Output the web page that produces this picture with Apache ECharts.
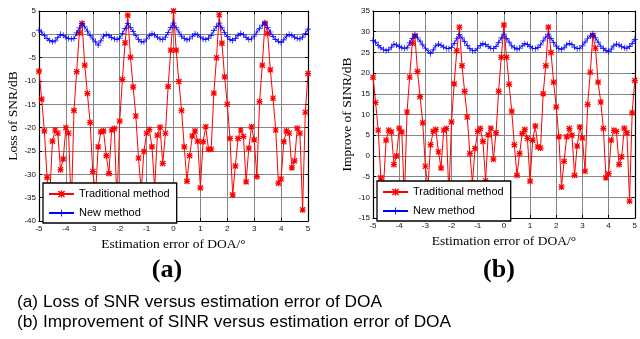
<!DOCTYPE html>
<html>
<head>
<meta charset="utf-8">
<script src="https://cdn.jsdelivr.net/npm/echarts@6/dist/echarts.min.js"></script>
<style>
  html, body { margin: 0; padding: 0; background: #fff; }
  #chart { width: 640px; height: 339px; }
</style>
</head>
<body>
<div id="chart"></div>
<script>
// DOA estimation error (degrees), sampled every 0.1
const doaError = [
  -5, -4.9, -4.8, -4.7, -4.6, -4.5, -4.4, -4.3, -4.2, -4.1,
  -4, -3.9, -3.8, -3.7, -3.6, -3.5, -3.4, -3.3, -3.2, -3.1,
  -3, -2.9, -2.8, -2.7, -2.6, -2.5, -2.4, -2.3, -2.2, -2.1,
  -2, -1.9, -1.8, -1.7, -1.6, -1.5, -1.4, -1.3, -1.2, -1.1,
  -1, -0.9, -0.8, -0.7, -0.6, -0.5, -0.4, -0.3, -0.2, -0.1,
  0, 0.1, 0.2, 0.3, 0.4, 0.5, 0.6, 0.7, 0.8, 0.9,
  1, 1.1, 1.2, 1.3, 1.4, 1.5, 1.6, 1.7, 1.8, 1.9,
  2, 2.1, 2.2, 2.3, 2.4, 2.5, 2.6, 2.7, 2.8, 2.9,
  3, 3.1, 3.2, 3.3, 3.4, 3.5, 3.6, 3.7, 3.8, 3.9,
  4, 4.1, 4.2, 4.3, 4.4, 4.5, 4.6, 4.7, 4.8, 4.9,
  5
];

// (a) Loss of SNR, dB
const snrLossTraditional = [
  -7.9, -13.9, -20.7, -30.7, -34.5, -22.9, -20.5, -21.2, -29.0, -26.7,
  -20.0, -21.2, -37.5, -16.3, -8.0, 0.3, 2.3, -6.6, -12.7, -18.9,
  -29.4, -34.5, -24.1, -20.9, -20.7, -26.0, -29.8, -20.5, -20.2, -36.5,
  -18.6, -9.7, -1.8, 4.1, -4.9, -11.3, -17.5, -26.5, -33.5, -25.1,
  -21.2, -20.4, -24.1, -33.0, -21.6, -19.9, -27.7, -21.2, -11.2, -3.4,
  5.0, -3.4, -10.1, -16.3, -24.1, -31.5, -26.0, -21.8, -20.7, -22.9,
  -32.9, -23.0, -19.8, -24.6, -24.6, -12.6, -5.0, 4.2, -1.9, -9.1,
  -15.0, -22.3, -34.4, -28.2, -22.3, -20.5, -21.9, -31.6, -24.4, -19.8,
  -22.6, -30.5, -14.4, -6.6, 2.4, 0.2, -7.6, -13.7, -20.5, -31.9,
  -31.0, -23.0, -20.7, -21.2, -28.6, -27.1, -20.1, -21.2, -37.6, -16.7,
  -8.4
];
const snrLossNew = [
  0.9, 0.5, -0.3, -0.9, -1.3, -1.6, -1.4, -0.7, 0.0, -0.2,
  -0.6, -0.9, -1.0, -0.9, 0.3, 1.4, 2.3, 1.6, 0.7, -0.2,
  -1.0, -1.6, -2.3, -1.4, -0.4, 0.0, -0.3, -0.7, -1.0, -1.1,
  -0.8, 0.2, 1.3, 2.3, 1.5, 0.6, -0.3, -1.1, -1.6, -1.6,
  -1.0, -0.3, 0.1, -0.1, -0.6, -1.0, -1.1, -0.6, 0.4, 1.5,
  2.4, 1.4, 0.5, -0.4, -0.9, -1.2, -1.0, -0.4, 0.1, -0.1,
  -0.6, -1.0, -1.1, -0.8, -0.2, 0.8, 1.7, 2.4, 1.4, 0.4,
  -0.5, -1.1, -1.3, -0.9, -0.2, 0.2, -0.1, -0.7, -1.1, -1.0,
  -0.4, 0.5, 1.3, 2.0, 2.5, 1.5, 0.5, -0.5, -1.1, -1.5,
  -1.8, -1.2, -0.4, 0.0, -0.2, -0.6, -0.9, -1.0, -0.6, 0.2,
  1.1
];

// (b) Improvement of SINR, dB
const sinrGainTraditional = [
  19.0, 12.9, 6.2, -5.3, -7.5, 3.8, 6.2, 5.8, -2.1, 0.0,
  6.7, 5.8, -10.5, 10.6, 19.0, 27.2, 29.0, 20.4, 14.3, 8.0,
  -2.5, -7.5, 2.7, 5.9, 6.4, 1.0, -2.9, 6.2, 6.6, -9.5,
  8.2, 17.4, 25.4, 31.1, 21.8, 15.6, 9.4, 0.6, -6.5, 1.8,
  5.9, 6.6, 3.5, -6.0, 5.1, 6.7, -0.8, 5.6, 15.6, 23.8,
  31.6, 23.8, 17.3, 10.8, 2.7, -4.7, 0.6, 5.4, 6.4, 4.2,
  -6.1, 3.8, 7.2, 2.2, 1.9, 15.0, 21.8, 31.1, 25.0, 17.8,
  11.8, 4.6, -7.5, -1.3, 4.6, 6.6, 5.0, -4.7, 2.4, 7.0,
  4.3, -3.7, 12.4, 20.2, 29.1, 26.0, 17.8, 13.0, 6.6, -5.3,
  -4.3, 3.8, 6.2, 5.9, -2.1, -0.2, 6.7, 5.6, -10.9, 10.4,
  18.2
];
const sinrGainNew = [
  27.9, 27.5, 26.7, 26.1, 25.7, 25.4, 25.6, 26.3, 27.0, 26.8,
  26.4, 26.1, 26.0, 26.1, 27.3, 28.4, 29.3, 28.6, 27.7, 26.8,
  26.0, 25.4, 24.7, 25.6, 26.6, 27.0, 26.7, 26.3, 26.0, 25.9,
  26.2, 27.2, 28.3, 29.3, 28.5, 27.6, 26.7, 25.9, 25.4, 25.4,
  26.0, 26.7, 27.1, 26.9, 26.4, 26.0, 25.9, 26.4, 27.4, 28.5,
  29.4, 28.4, 27.5, 26.6, 26.1, 25.8, 26.0, 26.6, 27.1, 26.9,
  26.4, 26.0, 25.9, 26.2, 26.8, 27.8, 28.7, 29.4, 28.4, 27.4,
  26.5, 25.9, 25.7, 26.1, 26.8, 27.2, 26.9, 26.3, 25.9, 26.0,
  26.6, 27.5, 28.3, 29.0, 29.5, 28.5, 27.5, 26.5, 25.9, 25.5,
  25.2, 25.8, 26.6, 27.0, 26.8, 26.4, 26.1, 26.0, 26.4, 27.2,
  28.1
];

const seriesNames = ['Traditional method', 'New method'];
const xRange = [-5, 5];
const yRangeA = [-40, 5];
const yRangeB = [-15, 35];

const pairs = (ys) => doaError.map((x, i) => [x, ys[i]]);

// MATLAB-style markers: asterisk and plus
const asterisk = 'path://M4,0H6V10H4Z M0,4H10V6H0Z M0,1.4L1.4,0L10,8.6L8.6,10Z M8.6,0L10,1.4L1.4,10L0,8.6Z';
const plus = 'path://M4.4,0H5.6V4.4H10V5.6H5.6V10H4.4V5.6H0V4.4H4.4Z';

const RED = '#ff0000';
const BLUE = '#0000ff';
const sans = 'Liberation Sans';
const serif = 'Liberation Serif';

function mainX(gridIndex) {
  return {
    type: 'value', gridIndex, min: xRange[0], max: xRange[1], interval: 1,
    axisLine: { show: true, onZero: false, lineStyle: { color: '#000', width: 1.2 } },
    axisTick: { show: true, inside: true, length: 3, lineStyle: { color: '#000' } },
    axisLabel: { show: true, fontFamily: sans, fontSize: 8, color: '#111', margin: 4 },
    splitLine: { show: true, showMinLine: false, showMaxLine: false, lineStyle: { color: '#858585', width: 1 } },
    name: 'Estimation error of DOA/\u00b0', nameLocation: 'middle', nameGap: 14,
    nameTextStyle: { fontFamily: serif, fontSize: 13.5, color: '#000' }
  };
}
function frameX(gridIndex) {
  return {
    type: 'value', gridIndex, position: 'top', min: xRange[0], max: xRange[1], interval: 1,
    axisLine: { show: true, onZero: false, lineStyle: { color: '#000', width: 1.2 } },
    axisTick: { show: true, inside: true, length: 3, lineStyle: { color: '#000' } },
    axisLabel: { show: false }, splitLine: { show: false }
  };
}
function mainY(gridIndex, range, name) {
  return {
    type: 'value', gridIndex, min: range[0], max: range[1], interval: 5,
    axisLine: { show: true, onZero: false, lineStyle: { color: '#000', width: 1.2 } },
    axisTick: { show: true, inside: true, length: 3, lineStyle: { color: '#000' } },
    axisLabel: { show: true, fontFamily: sans, fontSize: 8, color: '#111', margin: 3 },
    splitLine: { show: true, showMinLine: false, showMaxLine: false, lineStyle: { color: '#858585', width: 1 } },
    name, nameLocation: 'middle', nameGap: 15,
    nameTextStyle: { fontFamily: serif, fontSize: 13.5, color: '#000' }
  };
}
function frameY(gridIndex, range) {
  return {
    type: 'value', gridIndex, position: 'right', min: range[0], max: range[1], interval: 5,
    axisLine: { show: true, onZero: false, lineStyle: { color: '#000', width: 1.2 } },
    axisTick: { show: true, inside: true, length: 3, lineStyle: { color: '#000' } },
    axisLabel: { show: false }, splitLine: { show: false }
  };
}
function lineSeries(name, data, xi, yi, color, symbol, size, z) {
  return {
    name, type: 'line', xAxisIndex: xi, yAxisIndex: yi, data,
    symbol, symbolSize: size, showSymbol: true, showAllSymbol: true,
    lineStyle: { color, width: 1 }, itemStyle: { color },
    emphasis: { disabled: true }, z
  };
}
function legendBox(left, top) {
  return {
    orient: 'vertical', left, top, data: seriesNames,
    itemWidth: 25, itemHeight: 9, itemGap: 7,
    padding: [5, 7, 4, 5],
    backgroundColor: '#fff', borderColor: '#000', borderWidth: 1.3, borderRadius: 0,
    textStyle: { fontFamily: sans, fontSize: 11, color: '#000', lineHeight: 12 },
    selectedMode: false, z: 10
  };
}

const chart = echarts.init(document.getElementById('chart'), null, { renderer: 'canvas' });
chart.setOption({
  animation: false,
  backgroundColor: '#fff',
  grid: [
    { left: 39, top: 11, width: 269, height: 210, containLabel: false },
    { left: 373, top: 11, width: 265, height: 207, containLabel: false }
  ],
  xAxis: [mainX(0), frameX(0), mainX(1), frameX(1)],
  yAxis: [
    mainY(0, yRangeA, 'Loss of SNR/dB'), frameY(0, yRangeA),
    mainY(1, yRangeB, 'Improve of SINR/dB'), frameY(1, yRangeB)
  ],
  legend: [legendBox(43, 183), legendBox(377, 181)],
  series: [
    lineSeries(seriesNames[0], pairs(snrLossTraditional), 0, 0, RED, asterisk, 6, 2),
    lineSeries(seriesNames[1], pairs(snrLossNew), 0, 0, BLUE, plus, 6, 3),
    lineSeries(seriesNames[0], pairs(sinrGainTraditional), 2, 2, RED, asterisk, 6, 2),
    lineSeries(seriesNames[1], pairs(sinrGainNew), 2, 2, BLUE, plus, 6, 3)
  ],
  graphic: [
    { type: 'text', x: 167, y: 270, style: { text: '(a)', font: 'bold 26px "Liberation Serif"', fill: '#000', textAlign: 'center', textVerticalAlign: 'middle' } },
    { type: 'text', x: 499, y: 270, style: { text: '(b)', font: 'bold 26px "Liberation Serif"', fill: '#000', textAlign: 'center', textVerticalAlign: 'middle' } },
    { type: 'text', x: 17, y: 302, style: { text: '(a) Loss of SNR versus estimation error of DOA', font: '17.3px "Liberation Sans"', fill: '#000', textAlign: 'left', textVerticalAlign: 'middle' } },
    { type: 'text', x: 17, y: 322, style: { text: '(b) Improvement of SINR versus estimation error of DOA', font: '17.3px "Liberation Sans"', fill: '#000', textAlign: 'left', textVerticalAlign: 'middle' } }
  ]
});
</script>
</body>
</html>
